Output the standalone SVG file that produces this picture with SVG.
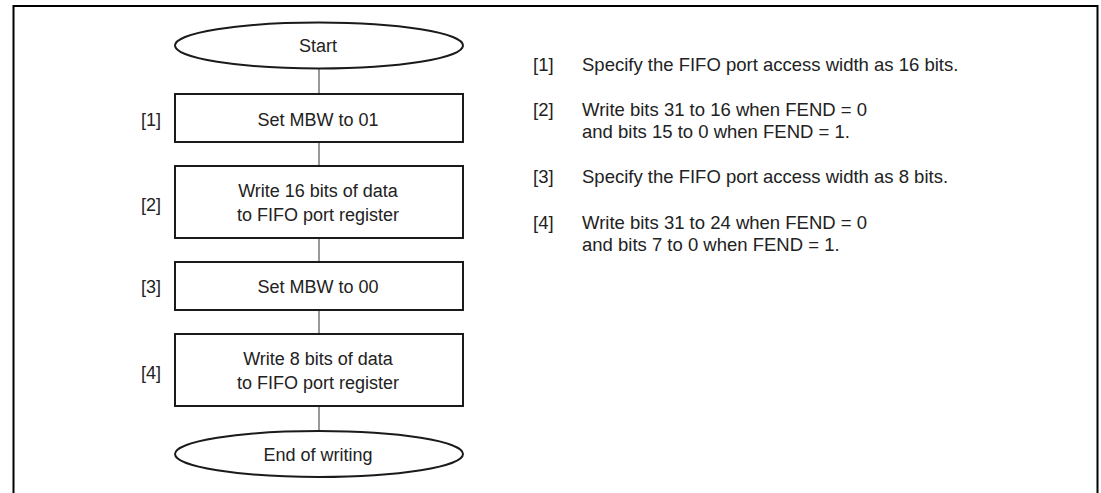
<svg xmlns="http://www.w3.org/2000/svg" width="1101" height="493" viewBox="0 0 1101 493">
<style>
.box{fill:#fff;stroke:#1a1a1a;stroke-width:2}
.ln{stroke:#333;stroke-width:1;fill:none}
text{font-family:"Liberation Sans",Arial,sans-serif;font-size:18px;fill:#222}
.c{text-anchor:middle}
.n{font-size:18.5px}
</style>
<rect x="0" y="0" width="1101" height="493" fill="#fff"/>
<path d="M13.5,500 V6 H1097.5 V500" fill="none" stroke="#000" stroke-width="2"/>
<g id="connectors">
<line class="ln" x1="319" y1="68" x2="319" y2="94"/>
<line class="ln" x1="319" y1="142" x2="319" y2="166"/>
<line class="ln" x1="319" y1="238" x2="319" y2="262"/>
<line class="ln" x1="319" y1="310" x2="319" y2="334"/>
<line class="ln" x1="319" y1="406" x2="319" y2="431"/>
</g>
<g id="start"><ellipse class="box" cx="319" cy="45.5" rx="144" ry="23"/><text class="c" x="318" y="52">Start</text></g>
<g id="step1"><rect class="box" x="175" y="94" width="288" height="48"/><text class="c" x="318" y="125.5">Set MBW to 01</text><text x="141" y="126">[1]</text></g>
<g id="step2"><rect class="box" x="175" y="166" width="288" height="72"/><text class="c" x="318" y="197">Write 16 bits of data</text><text class="c" x="318" y="221">to FIFO port register</text><text x="141" y="211">[2]</text></g>
<g id="step3"><rect class="box" x="175" y="262" width="288" height="48"/><text class="c" x="318" y="293">Set MBW to 00</text><text x="141" y="293">[3]</text></g>
<g id="step4"><rect class="box" x="175" y="334" width="288" height="72"/><text class="c" x="318" y="365">Write 8 bits of data</text><text class="c" x="318" y="389">to FIFO port register</text><text x="141" y="379">[4]</text></g>
<g id="end"><ellipse class="box" cx="319" cy="454" rx="144" ry="23"/><text class="c" x="318" y="461">End of writing</text></g>
<g id="notes" class="n">
<text class="n" x="533" y="71">[1]</text><text class="n" x="582" y="71">Specify the FIFO port access width as 16 bits.</text>
<text class="n" x="533" y="116">[2]</text><text class="n" x="582" y="116">Write bits 31 to 16 when FEND = 0</text><text class="n" x="582" y="138">and bits 15 to 0 when FEND = 1.</text>
<text class="n" x="533" y="183">[3]</text><text class="n" x="582" y="183">Specify the FIFO port access width as 8 bits.</text>
<text class="n" x="533" y="229">[4]</text><text class="n" x="582" y="229">Write bits 31 to 24 when FEND = 0</text><text class="n" x="582" y="251">and bits 7 to 0 when FEND = 1.</text>
</g>
</svg>
